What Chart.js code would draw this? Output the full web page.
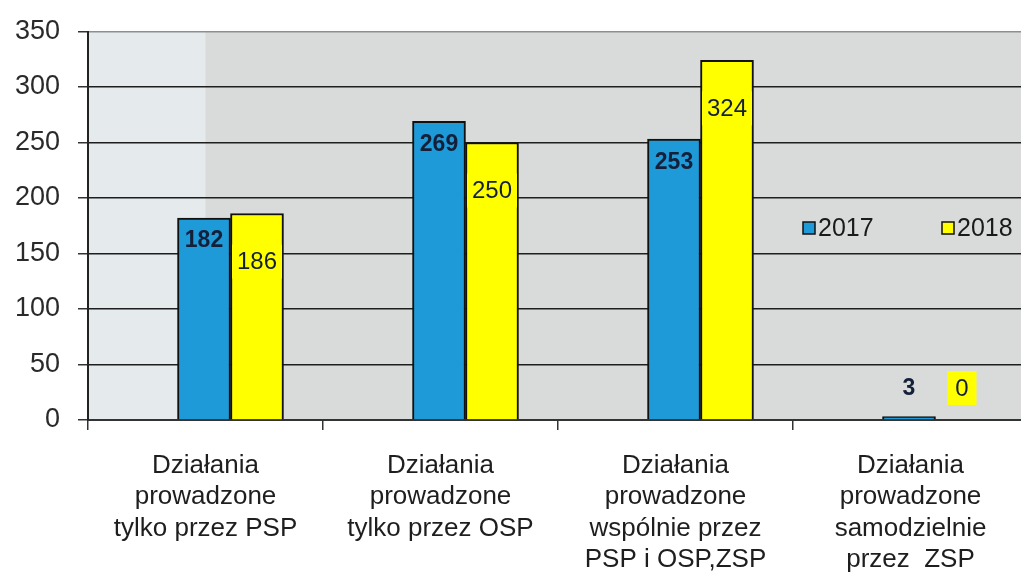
<!DOCTYPE html>
<html lang="pl">

<head>
    <meta charset="UTF-8">
    <title>Działania PSP / OSP / ZSP 2017-2018</title>
    <style>
        html, body {
            margin: 0;
            padding: 0;
            background: #fff;
            overflow: hidden;
        }

        #wrap {
            width: 1028px;
            height: 588px;
        }
    </style>
</head>

<body>
    <div id="wrap"><canvas id="chart"></canvas></div>
    <script src="https://cdn.jsdelivr.net/npm/chart.js"></script>
    <script>
        const categories = [
            ['Działania', 'prowadzone', 'tylko przez PSP'],
            ['Działania', 'prowadzone', 'tylko przez OSP'],
            ['Działania', 'prowadzone', 'wspólnie przez', 'PSP i OSP,ZSP'],
            ['Działania', 'prowadzone', 'samodzielnie', 'przez  ZSP']
        ];
        const seriesNames = ['2017', '2018'];
        const values2017 = [182, 269, 253, 3];
        const values2018 = [186, 250, 324, 0];
        const yMax = 350;
        const yStep = 50;

        const blue = '#1f9ad8';
        const yellow = '#ffff00';
        const ink = '#14203a';
        const font = '"Liberation Sans", Arial, sans-serif';

        // the bars in the scan sit ~25px right of their category centres
        const barShift = 25 / 235;

        // plot background, lighter strip on the left like the scan
        const backdrop = {
            id: 'backdrop',
            beforeDraw(chart) {
                const { ctx, chartArea: a } = chart;
                const split = chart.scales.x.getPixelForValue(0);
                ctx.save();
                ctx.fillStyle = '#d9dbda';
                ctx.fillRect(a.left, a.top, a.right - a.left, a.bottom - a.top);
                ctx.fillStyle = '#e5eaec';
                ctx.fillRect(a.left, a.top, split - a.left, a.bottom - a.top);
                ctx.restore();
            }
        };

        // value labels + legend drawn by hand
        const labelsAndLegend = {
            id: 'labelsAndLegend',
            afterDatasetsDraw(chart) {
                const ctx = chart.ctx;
                ctx.save();
                ctx.textAlign = 'center';
                ctx.textBaseline = 'middle';

                chart.data.datasets.forEach((ds, di) => {
                    const meta = chart.getDatasetMeta(di);
                    meta.data.forEach((bar, i) => {
                        const v = ds.data[i].y;
                        const h = bar.base - bar.y;
                        let y;
                        if (h < 40) {
                            y = bar.base - 32;
                        } else {
                            y = bar.y + (di === 0 ? 22 : 48);
                        }
                        const text = String(v);
                        if (di === 0) {
                            ctx.font = 'bold 23px ' + font;
                        } else {
                            ctx.font = '24px ' + font;
                            const w = Math.max(ctx.measureText(text).width + 10, 29);
                            ctx.fillStyle = yellow;
                            ctx.fillRect(bar.x - w / 2, y - 17, w, 34);
                        }
                        ctx.fillStyle = ink;
                        ctx.fillText(text, bar.x, y + 1);
                    });
                });

                // legend
                const a = chart.chartArea;
                const ly = 228;
                const items = [
                    { x: a.right - 225, color: blue, text: seriesNames[0] },
                    { x: a.right - 86, color: yellow, text: seriesNames[1] }
                ];
                ctx.textAlign = 'left';
                ctx.font = '25px ' + font;
                items.forEach(it => {
                    ctx.fillStyle = it.color;
                    ctx.fillRect(it.x, ly - 6, 12, 12);
                    ctx.strokeStyle = '#111';
                    ctx.lineWidth = 1.5;
                    ctx.strokeRect(it.x, ly - 6, 12, 12);
                    ctx.fillStyle = '#1a1a1a';
                    ctx.fillText(it.text, it.x + 15, ly + 1);
                });
                ctx.restore();
            }
        };

        new Chart(document.getElementById('chart'), {
            type: 'bar',
            data: {
                labels: categories,
                datasets: [{
                    label: seriesNames[0],
                    data: values2017.map((v, i) => ({ x: i, y: v })),
                    xAxisID: 'xb',
                    backgroundColor: blue,
                    borderColor: '#111',
                    borderWidth: 2,
                    barThickness: 53
                }, {
                    label: seriesNames[1],
                    data: values2018.map((v, i) => ({ x: i, y: v })),
                    xAxisID: 'xb',
                    backgroundColor: yellow,
                    borderColor: '#111',
                    borderWidth: 2,
                    barThickness: 53
                }]
            },
            options: {
                responsive: true,
                maintainAspectRatio: false,
                animation: false,
                layout: {
                    padding: { top: 31, left: 0, right: 0, bottom: 0 }
                },
                plugins: {
                    legend: { display: false },
                    tooltip: { enabled: false }
                },
                scales: {
                    x: {
                        type: 'category',
                        grid: {
                            offset: true,
                            drawOnChartArea: false,
                            tickLength: 10,
                            color: '#333',
                            lineWidth: 1.5
                        },
                        border: { display: true, color: '#333', width: 2 },
                        ticks: {
                            autoSkip: false,
                            maxRotation: 0,
                            padding: 20,
                            color: '#1e1e1e',
                            font: { family: font, size: 26, lineHeight: 1.21 }
                        },
                        afterFit(scale) {
                            scale.height = 168;
                        }
                    },
                    xb: {
                        type: 'linear',
                        display: false,
                        min: -0.5 - barShift,
                        max: 3.5 - barShift,
                        offset: false
                    },
                    y: {
                        min: 0,
                        max: yMax,
                        ticks: {
                            stepSize: yStep,
                            padding: 18,
                            color: '#2a2a2a',
                            font: { family: font, size: 27, lineHeight: 1 }
                        },
                        grid: {
                            color: ctx => ctx.tick && ctx.tick.value === yMax ? '#8f8f8f' : '#1e1e1e',
                            lineWidth: 1.5,
                            tickLength: 10,
                            tickColor: '#333'
                        },
                        border: { display: true, color: '#222', width: 2 },
                        afterFit(scale) {
                            scale.width = 88;
                        }
                    }
                }
            },
            plugins: [backdrop, labelsAndLegend]
        });
    </script>
</body>

</html>
